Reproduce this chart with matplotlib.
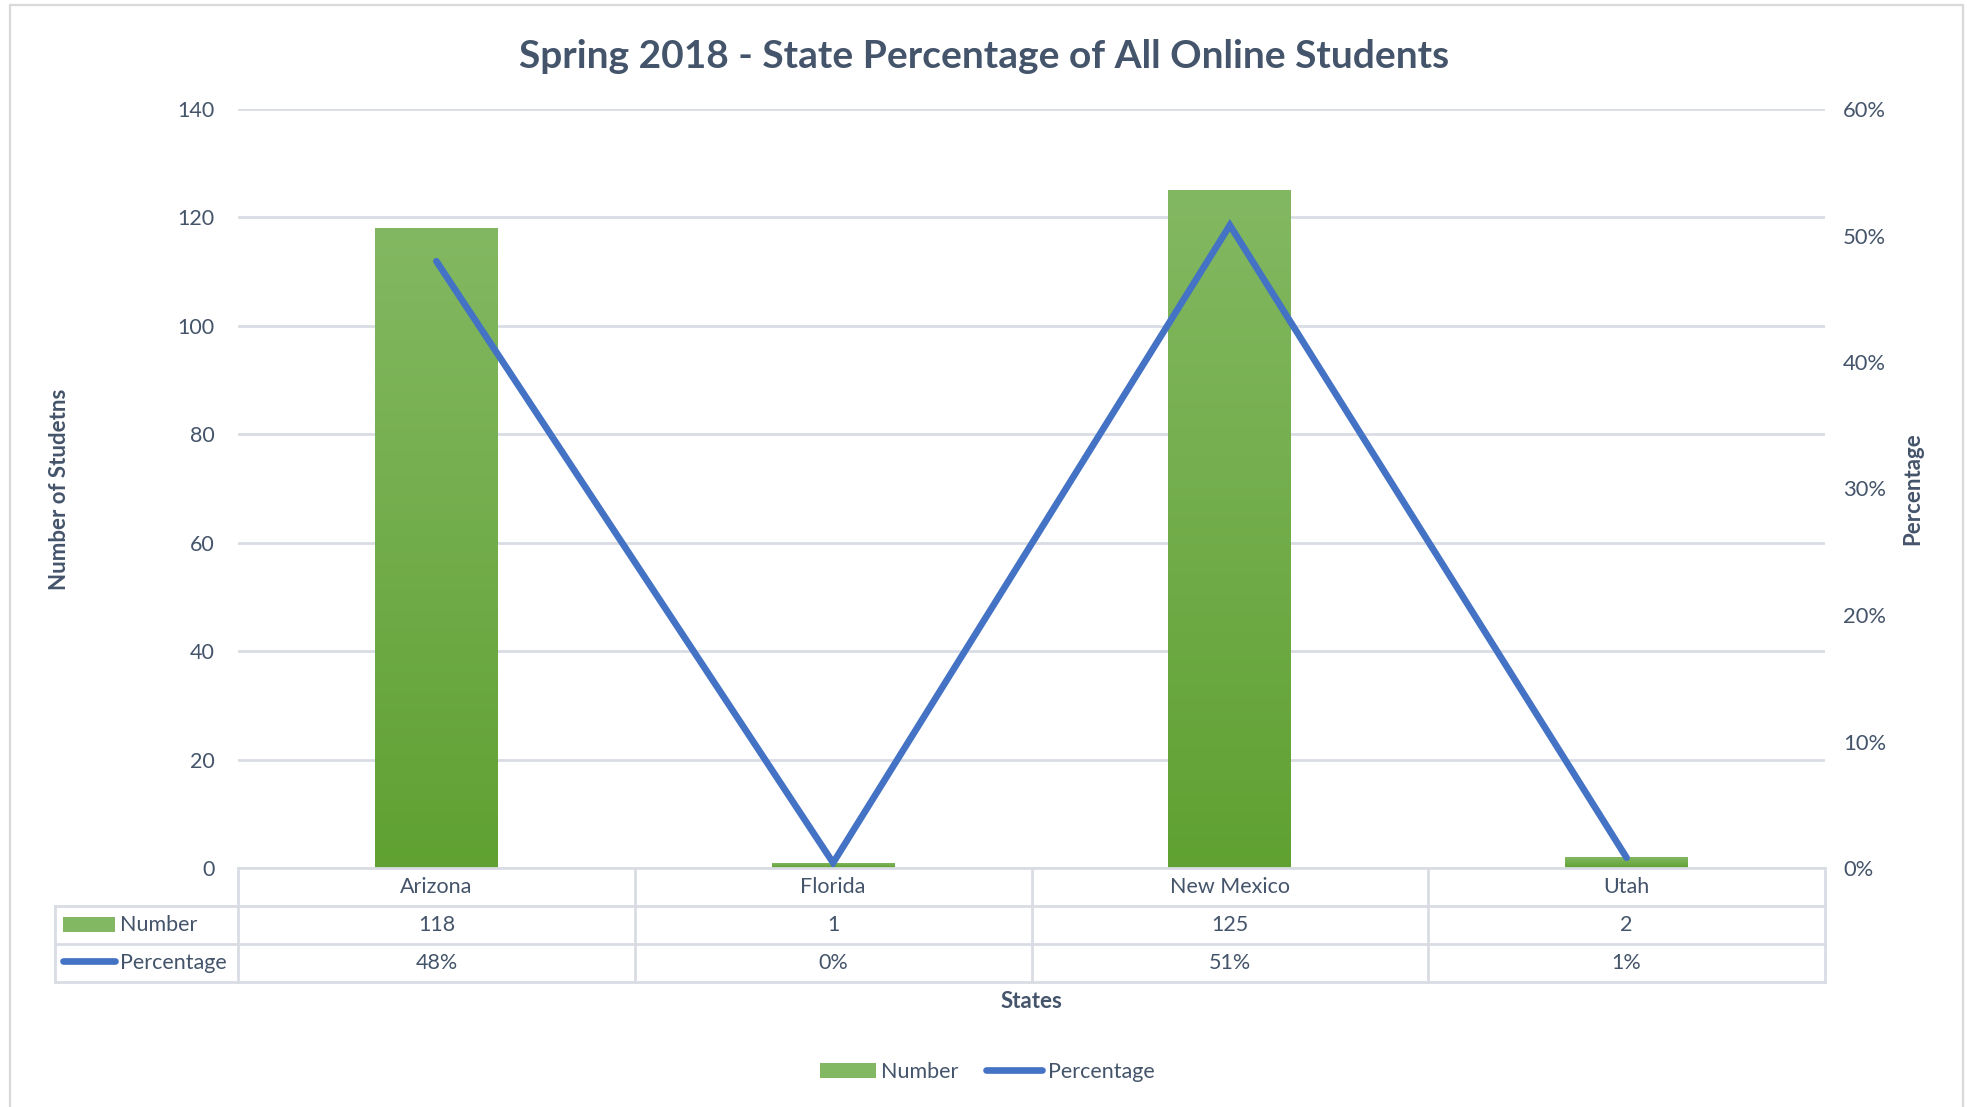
import matplotlib
matplotlib.use("Agg")
import matplotlib.pyplot as plt
import numpy as np
from matplotlib.colors import LinearSegmentedColormap
from matplotlib.patches import Rectangle, Patch
from matplotlib.lines import Line2D

# ---- data ----
states = ["Arizona", "Florida", "New Mexico", "Utah"]
numbers = [118, 1, 125, 2]
percentages = [0.4797, 0.0041, 0.5081, 0.0081]
left_ticks = [0, 20, 40, 60, 80, 100, 120, 140]
right_ticks = [0.0, 0.1, 0.2, 0.3, 0.4, 0.5, 0.6]

FONT = "Lato"
TXT = "#44546A"
GRID = "#D9DDE3"
LINE_C = "#4472C4"
GREEN_TOP = "#83B862"
GREEN_BOT = "#60A132"

W, H = 1967, 1107
fig = plt.figure(figsize=(W / 100, H / 100), dpi=100)

def fx(px):
    return px / W

def fy(py):
    return 1 - py / H

# outer frame
fig.patches.append(Rectangle((fx(10), fy(1120)), fx(1963) - fx(10), fy(5) - fy(1120),
                             transform=fig.transFigure, fill=False,
                             edgecolor="#D9D9D9", linewidth=1.6))

L, R, T, B = 238, 1825, 109, 868
ax = fig.add_axes([fx(L), fy(B), fx(R) - fx(L), fy(T) - fy(B)])
ax2 = ax.twinx()

x = np.arange(len(states))
bw = 0.31
bars = ax.bar(x, numbers, width=bw, color=GREEN_BOT, zorder=2)
cmap = LinearSegmentedColormap.from_list("g", [GREEN_BOT, GREEN_TOP])
grad = np.linspace(0, 1, 256).reshape(-1, 1)
for b in bars:
    x0, w_, h_ = b.get_x(), b.get_width(), b.get_height()
    im = ax.imshow(grad, extent=[x0, x0 + w_, 0, h_], origin="lower",
                   aspect="auto", cmap=cmap, zorder=2.5)
    im.set_clip_path(b)

ax.set_xlim(-0.5, len(states) - 0.5)
ax.set_ylim(0, 140)
ax.set_yticks(left_ticks)
ax.set_yticklabels([str(v) for v in left_ticks])
ax.set_xticks([])
ax.grid(axis="y", color=GRID, linewidth=2.0, zorder=0)
ax.set_axisbelow(True)
for s in ax.spines.values():
    s.set_visible(False)
ax.tick_params(axis="y", length=0, pad=17, labelsize=15.5, labelcolor=TXT)
for t in ax.get_yticklabels():
    t.set_fontfamily(FONT)

ax2.plot(x, percentages, color=LINE_C, linewidth=4.8, solid_capstyle="round",
         solid_joinstyle="miter", zorder=3)
ax2.set_ylim(0, 0.6)
ax2.set_yticks(right_ticks)
ax2.set_yticklabels([f"{v:.0%}" for v in right_ticks])
for s in ax2.spines.values():
    s.set_visible(False)
ax2.tick_params(axis="y", length=0, pad=13, labelsize=15.8, labelcolor=TXT)
for t in ax2.get_yticklabels():
    t.set_fontfamily(FONT)

# axis titles
fig.text(fx(59), fy(489), "Number of Studetns", rotation=90, ha="center", va="center",
         fontsize=16, fontweight="bold", color=TXT, family=FONT)
fig.text(fx(1913), fy(489), "Percentage", rotation=90, ha="center", va="center",
         fontsize=16, fontweight="bold", color=TXT, family=FONT)
fig.text(fx(1031), fy(1001), "States", ha="center", va="center",
         fontsize=16, fontweight="bold", color=TXT, family=FONT)

# title
fig.text(fx(984), fy(56), "Spring 2018 - State Percentage of All Online Students",
         ha="center", va="center", fontsize=28, fontweight="bold", color=TXT, family=FONT)

# data table
TL, TB = 55, 982
tax = fig.add_axes([fx(TL), fy(TB), fx(R) - fx(TL), fy(B) - fy(TB)])
unit = (R - L) / len(states)
xmin = -0.5 - (L - TL) / unit
tax.set_xlim(xmin, len(states) - 0.5)
tax.set_ylim(3, 0)
tax.axis("off")
lw_t = 2.0
tax.plot([-0.5, len(states) - 0.5], [0, 0], color=GRID, lw=lw_t, clip_on=False)
for yy in (1, 2, 3):
    tax.plot([xmin, len(states) - 0.5], [yy, yy], color=GRID, lw=lw_t, clip_on=False)
for xx in np.arange(len(states) + 1) - 0.5:
    tax.plot([xx, xx], [0, 3], color=GRID, lw=lw_t, clip_on=False)
tax.plot([xmin, xmin], [1, 3], color=GRID, lw=lw_t, clip_on=False)
for i, s in enumerate(states):
    tax.text(i, 0.5, s, ha="center", va="center", fontsize=15.5, color=TXT, family=FONT)
    tax.text(i, 1.5, str(numbers[i]), ha="center", va="center", fontsize=15.5, color=TXT, family=FONT)
    tax.text(i, 2.5, f"{percentages[i]:.0%}", ha="center", va="center", fontsize=15.5,
             color=TXT, family=FONT)
# row legend keys
k0 = xmin + (63 - TL) / unit
k1 = xmin + (115 - TL) / unit
tax.add_patch(Rectangle((k0, 1.3), k1 - k0, 0.38, facecolor=GREEN_TOP, edgecolor="none",
                        clip_on=False))
tax.plot([xmin + (63 - TL) / unit, xmin + (115 - TL) / unit], [2.45, 2.45], color=LINE_C,
         lw=4.8, solid_capstyle="round", clip_on=False)
tax.text(xmin + (120 - TL) / unit, 1.5, "Number", ha="left", va="center", fontsize=15.5,
         color=TXT, family=FONT)
tax.text(xmin + (120 - TL) / unit, 2.5, "Percentage", ha="left", va="center", fontsize=15.5,
         color=TXT, family=FONT)

# bottom legend
handles = [Patch(facecolor=GREEN_TOP, edgecolor="none"),
           Line2D([0], [0], color=LINE_C, lw=4.8, solid_capstyle="round")]
leg = fig.legend(handles, ["Number", "Percentage"], loc="center",
                 bbox_to_anchor=(fx(987), fy(1072)), ncol=2, frameon=False,
                 prop={"family": FONT, "size": 15.5}, handlelength=2.6,
                 handletextpad=0.25, columnspacing=1.3)
for t in leg.get_texts():
    t.set_color(TXT)

fig.savefig("out.png", dpi=100)
